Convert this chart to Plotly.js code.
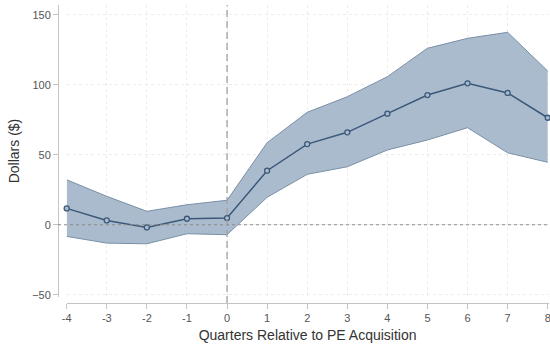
<!DOCTYPE html>
<html>
<head>
<meta charset="utf-8">
<script src="https://cdn.plot.ly/plotly-3.0.1.min.js"></script>
<style>
  html, body { margin: 0; padding: 0; background: #fff; }
  #chart { width: 550px; height: 346px; }
</style>
</head>
<body>
<div id="chart"></div>
<script>
// Event-time quarters around the PE acquisition
const quarters = [-4, -3, -2, -1, 0, 1, 2, 3, 4, 5, 6, 7, 8];
// Point estimates (dollars)
const estimate = [11.7, 3.1, -1.9, 4.3, 4.8, 38.6, 57.6, 66.0, 79.3, 92.6, 101.0, 94.1, 76.4];
// 95% confidence bounds
const ciUpper = [32.1, 20.3, 9.6, 14.3, 17.5, 58.6, 80.3, 91.4, 105.7, 126.0, 133.1, 137.4, 109.8];
const ciLower = [-8.3, -13.1, -13.6, -6.4, -7.1, 19.6, 36.0, 41.4, 53.4, 60.5, 69.3, 51.4, 44.6];

const yTicks = [-50, 0, 50, 100, 150];

const bandFill = '#aabbcd';
const bandEdge = '#7a8fa6';
const lineColor = '#3c5878';
const axisGray = '#c4c4c4';

const traces = [
  {
    x: quarters, y: ciLower, type: 'scatter', mode: 'lines',
    line: { color: bandEdge, width: 1 }, hoverinfo: 'skip', showlegend: false
  },
  {
    x: quarters, y: ciUpper, type: 'scatter', mode: 'lines',
    fill: 'tonexty', fillcolor: bandFill,
    line: { color: bandEdge, width: 1 }, hoverinfo: 'skip', showlegend: false
  },
  {
    x: quarters, y: estimate, type: 'scatter', mode: 'lines+markers',
    line: { color: lineColor, width: 1.5 },
    marker: { symbol: 'circle', size: 5, color: bandFill, line: { color: lineColor, width: 1.3 } },
    showlegend: false, cliponaxis: false
  }
];

const layout = {
  width: 550, height: 346,
  margin: { l: 58, r: 1, t: 5, b: 43 },
  paper_bgcolor: '#fff', plot_bgcolor: '#fff',
  font: { family: 'Liberation Sans, Arial, sans-serif', color: '#444' },
  showlegend: false,
  xaxis: {
    domain: [0.0177, 0.999],
    range: [-4, 8.02],
    anchor: 'free', position: 0,
    tickvals: quarters,
    ticktext: quarters.map(String),
    ticklabeloverflow: 'allow',
    showline: true, linecolor: axisGray, linewidth: 1,
    ticks: 'outside', ticklen: 5, tickcolor: axisGray,
    showgrid: true, gridcolor: '#ececec', griddash: 'dot', gridwidth: 1,
    zeroline: false,
    tickfont: { size: 11, color: '#555' },
    title: { text: 'Quarters Relative to PE Acquisition', font: { size: 14, color: '#333' }, standoff: 6 }
  },
  yaxis: {
    domain: [0.02, 1],
    range: [-51.6, 156.9],
    anchor: 'free', position: 0,
    tickvals: yTicks,
    showline: true, linecolor: axisGray, linewidth: 1,
    ticks: 'outside', ticklen: 5, tickcolor: axisGray,
    showgrid: true, gridcolor: '#ececec', griddash: 'dot', gridwidth: 1,
    zeroline: false,
    tickfont: { size: 11, color: '#555' },
    title: { text: 'Dollars ($)', font: { size: 14, color: '#333' }, standoff: 8 }
  },
  shapes: [
    { type: 'line', xref: 'paper', yref: 'y', x0: 0, x1: 1, y0: 0, y1: 0,
      line: { color: '#8a8a8a', width: 1, dash: '3px,3px' }, layer: 'above' },
    { type: 'line', xref: 'x', yref: 'paper', x0: 0, x1: 0, y0: 0, y1: 1,
      line: { color: '#a0a0a0', width: 1.3, dash: '7px,4px' }, layer: 'above' }
  ]
};

Plotly.newPlot('chart', traces, layout, { staticPlot: true, displayModeBar: false });
</script>
</body>
</html>
